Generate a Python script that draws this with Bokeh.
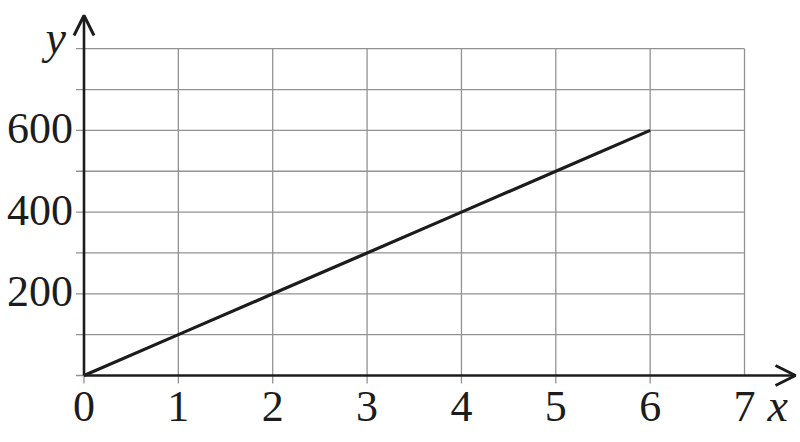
from bokeh.plotting import figure
from bokeh.models import Arrow, OpenHead, Range1d
from bokeh.core.properties import value
from bokeh.embed import file_html
from bokeh.resources import INLINE

# data
x_vals = [0, 1, 2, 3, 4, 5, 6]
y_vals = [0, 100, 200, 300, 400, 500, 600]
x_ticks = [0, 1, 2, 3, 4, 5, 6, 7]
x_tick_labels = ["0", "1", "2", "3", "4", "5", "6", "7"]
x_tick_marks = [0, 1, 2, 3, 4, 5, 6]
y_ticks = [0, 100, 200, 300, 400, 500, 600, 700, 800]
y_label_vals = [200, 400, 600]
y_tick_labels = ["200", "400", "600"]
x_name = "x"
y_name = "y"

# view (pixel layout of the reference)
PX_X = 94.36     # px per x unit
PX_Y = 0.4085    # px per y unit
X0_PX = 83.5     # page x of x=0
Y0_PX = 375.0    # page y of y=0
W, H = 800, 442
x_start = -X0_PX / PX_X
x_end = x_start + W / PX_X
y_end = Y0_PX / PX_Y
y_start = y_end - H / PX_Y
X_ARROW = (795 - X0_PX) / PX_X
Y_ARROW = (Y0_PX - 15) / PX_Y
TICK_X = 8 / PX_X
TICK_Y = 8 / PX_Y

FONT = value("Liberation Serif")
INK = "#1c1c1c"
GRID = "#929292"

p = figure(width=W, height=H, output_backend="svg", toolbar_location=None,
           x_range=Range1d(x_start, x_end), y_range=Range1d(y_start, y_end),
           x_axis_type=None, y_axis_type=None,
           min_border_left=0, min_border_right=0, min_border_top=0, min_border_bottom=0)
p.outline_line_color = None
p.grid.visible = False
p.background_fill_color = "white"
p.border_fill_color = "white"

# grid lines (0..7, 0..800) with short outward tick marks
n_x = len(x_ticks) - 1
p.segment(x0=x_ticks[1:], y0=[y_ticks[0]] * n_x, x1=x_ticks[1:], y1=[y_ticks[-1]] * n_x,
          line_color=GRID, line_width=1.3)
n_y = len(y_ticks) - 1
p.segment(x0=[x_ticks[0]] * n_y, y0=y_ticks[1:], x1=[x_ticks[-1]] * n_y, y1=y_ticks[1:],
          line_color=GRID, line_width=1.3)
p.segment(x0=x_tick_marks, y0=[0] * len(x_tick_marks), x1=x_tick_marks,
          y1=[-TICK_Y] * len(x_tick_marks), line_color=GRID, line_width=1.3)
p.segment(x0=[0] * len(y_ticks), y0=y_ticks, x1=[-TICK_X] * len(y_ticks), y1=y_ticks,
          line_color=GRID, line_width=1.3)

# data line
p.line(x_vals, y_vals, line_color=INK, line_width=3.2)

# axes with arrows
p.add_layout(Arrow(end=OpenHead(size=20, line_width=3, line_color=INK),
                   x_start=0, y_start=0, x_end=X_ARROW, y_end=0,
                   line_color=INK, line_width=2.6))
p.add_layout(Arrow(end=OpenHead(size=20, line_width=3, line_color=INK),
                   x_start=0, y_start=0, x_end=0, y_end=Y_ARROW,
                   line_color=INK, line_width=2.6))

# tick labels
p.text(x=x_ticks, y=[0] * len(x_ticks), text=x_tick_labels, text_font=FONT,
       text_font_size="44px", text_color=INK, text_align="center",
       text_baseline="alphabetic", y_offset=31)
p.text(x=[0] * len(y_label_vals), y=y_label_vals, text=y_tick_labels, text_font=FONT,
       text_font_size="44px", text_color=INK, text_align="right",
       text_baseline="alphabetic", x_offset=-11, y_offset=-2)

# axis names
p.text(x=[0], y=[y_ticks[-1]], text=[y_name], text_font=FONT, text_font_size="46px",
       text_font_style="italic", text_color=INK, text_align="right",
       text_baseline="alphabetic", x_offset=-18, y_offset=-11)
p.text(x=[x_ticks[-1]], y=[0], text=[x_name], text_font=FONT, text_font_size="46px",
       text_font_style="italic", text_color=INK, text_align="left",
       text_baseline="alphabetic", x_offset=23, y_offset=30)

open("out.html", "w").write(file_html(p, INLINE))
